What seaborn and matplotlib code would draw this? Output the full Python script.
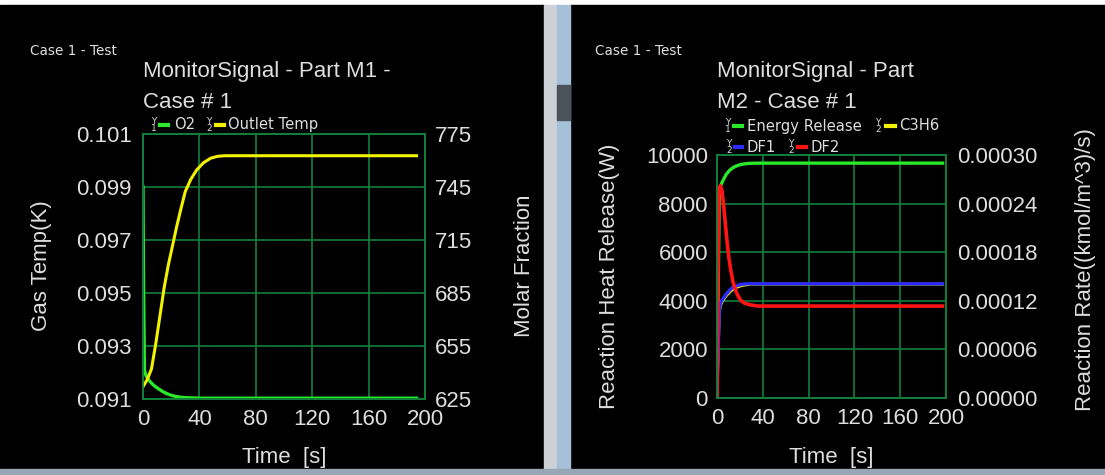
import matplotlib
matplotlib.use("Agg")
import matplotlib.pyplot as plt
import seaborn as sns
from matplotlib.patches import Rectangle
from matplotlib.lines import Line2D

# ---- data ----
# panel M1
t_o2 = [0, 0.3, 1, 2, 4, 6, 8, 10, 12, 14, 17, 20, 23, 26, 30, 35, 40, 60, 100, 150, 194]
o2 = [0.0990, 0.0960, 0.0921, 0.0919, 0.09172, 0.0916, 0.0915, 0.09142, 0.09135, 0.09128,
      0.0912, 0.09114, 0.0911, 0.09107, 0.09105, 0.09104, 0.09103, 0.09103, 0.09103,
      0.09103, 0.09103]
t_temp = [0, 3, 6, 9, 12, 15, 18, 21, 24, 27, 30, 34, 38, 43, 48, 53, 58, 100, 150, 194]
outlet_temp = [632, 636, 642, 656, 672, 688, 701, 712, 723, 733, 742.5, 749.5, 754.6,
               758.8, 761.3, 762.4, 762.7, 762.7, 762.7, 762.7]

# panel M2
t_energy = [0, 2, 3, 5, 8, 11, 14, 17, 20, 24, 28, 32, 40, 100, 150, 197]
energy_release = [0, 8500, 8720, 8930, 9200, 9370, 9480, 9550, 9600, 9635, 9655, 9662,
                  9665, 9665, 9665, 9665]
t_df2 = [0, 1.5, 3, 4.5, 6, 7.5, 9, 10.5, 12, 14, 16, 18, 20.5, 24, 29, 36, 100, 150, 197]
df2 = [0, 0.000258, 0.000262, 0.000255, 0.000235, 0.000212, 0.000190, 0.000172, 0.000158,
       0.000143, 0.000134, 0.000127, 0.000121, 0.000117, 0.000115, 0.0001135, 0.0001135,
       0.0001135, 0.0001135]
t_df1 = [0, 2, 3, 5, 8, 11, 14, 18, 22, 26, 100, 150, 197]
df1 = [0, 0.000110, 0.000117, 0.000122, 0.000128, 0.000133, 0.000137, 0.000139, 0.0001405,
       0.000141, 0.000141, 0.000141, 0.000141]
t_c3h6 = [0, 2, 3, 5, 8, 12, 16, 22, 30, 100, 150, 197]
c3h6 = [0, 0.000105, 0.000114, 0.000120, 0.000126, 0.000132, 0.000136, 0.000139, 0.0001405,
        0.0001405, 0.0001405, 0.0001405]

x_ticks = [0, 40, 80, 120, 160, 200]
m1_left_ticks = [0.091, 0.093, 0.095, 0.097, 0.099, 0.101]
m1_right_ticks = [625, 655, 685, 715, 745, 775]
m2_left_ticks = [0, 2000, 4000, 6000, 8000, 10000]
m2_right_ticks = [0.0, 0.00006, 0.00012, 0.00018, 0.00024, 0.00030]

W, H = 1105, 475
GRID = "#12803a"
TXT = "#dedede"
GREEN, YELLOW, BLUE, RED = "#2be82b", "#f2f200", "#2a2aff", "#ff1414"

plt.rcParams["font.family"] = ["Liberation Sans", "DejaVu Sans"]

fig = plt.figure(figsize=(W / 100, H / 100), dpi=100, facecolor="white")


def fx(px):
    return px / W


def fy(py):
    return 1 - py / H


def box(x0, y0, x1, y1, color):
    fig.patches.append(Rectangle((fx(x0), fy(y1)), fx(x1) - fx(x0), fy(y0) - fy(y1),
                                 transform=fig.transFigure, color=color, zorder=-5))


# window frames
box(0, 5, 544, 469, "black")
box(570, 5, W, 469, "black")
box(544, 5, 557, 469, "#cdd1d5")
box(557, 5, 570, 469, "#a6c0da")
box(557, 85, 570, 120, "#4c5259")
box(0, 469, W, H, "#98a6b6")


def make_axes(x0, y0, x1, y1):
    ax = fig.add_axes([fx(x0), fy(y1), fx(x1) - fx(x0), fy(y0) - fy(y1)])
    ax.set_facecolor("black")
    ax2 = ax.twinx()
    for a in (ax, ax2):
        for s in a.spines.values():
            s.set_color(GRID)
            s.set_linewidth(1.2)
    ax.grid(True, color=GRID, linewidth=1.2)
    ax.set_axisbelow(True)
    ax.set_xlim(0, 200)
    ax.set_xticks(x_ticks)
    ax.tick_params(axis="x", length=0, labelsize=16, colors=TXT, pad=7)
    return ax, ax2


# ---- panel M1 ----
ax1, ax1r = make_axes(143, 134, 425, 399)
sns.lineplot(x=t_o2, y=o2, ax=ax1, color=GREEN, linewidth=2.4, estimator=None)
sns.lineplot(x=t_temp, y=outlet_temp, ax=ax1r, color=YELLOW, linewidth=2.2, estimator=None)
ax1.set_ylim(0.091, 0.101)
ax1.set_yticks(m1_left_ticks, [f"{v:.3f}" for v in m1_left_ticks])
ax1r.set_ylim(625, 775)
ax1r.set_yticks(m1_right_ticks, [str(v) for v in m1_right_ticks])
ax1.tick_params(axis="y", length=0, labelsize=16, colors=TXT, pad=8)
ax1r.tick_params(axis="y", length=0, labelsize=16, colors=TXT, pad=7)

# ---- panel M2 ----
ax2, ax2r = make_axes(717, 155, 946, 398)
sns.lineplot(x=t_energy, y=energy_release, ax=ax2, color=GREEN, linewidth=2.4, estimator=None)
sns.lineplot(x=t_c3h6, y=c3h6, ax=ax2r, color=YELLOW, linewidth=2.0, estimator=None)
sns.lineplot(x=t_df1, y=df1, ax=ax2r, color=BLUE, linewidth=2.4, estimator=None)
sns.lineplot(x=t_df2, y=df2, ax=ax2r, color=RED, linewidth=2.6, estimator=None)
ax2.set_ylim(0, 10000)
ax2.set_yticks(m2_left_ticks, [str(v) for v in m2_left_ticks])
ax2r.set_ylim(0, 0.0003)
ax2r.set_yticks(m2_right_ticks, [f"{v:.5f}" for v in m2_right_ticks])
ax2.tick_params(axis="y", length=0, labelsize=16, colors=TXT, pad=6.5)
ax2r.tick_params(axis="y", length=0, labelsize=16, colors=TXT, pad=8)

for a in (ax1, ax1r, ax2, ax2r):
    a.set_xlabel("")
    a.set_ylabel("")
    a.margins(0)
ax1.set_xlim(0, 200)
ax2.set_xlim(0, 200)

# ---- texts ----
small = dict(color=TXT, family="DejaVu Sans")
fig.text(fx(30), fy(51), "Case 1 - Test", fontsize=9.8, va="center", ha="left", **small)
fig.text(fx(595), fy(51), "Case 1 - Test", fontsize=9.8, va="center", ha="left", **small)

big = dict(color=TXT, fontsize=16, va="center")
fig.text(fx(143), fy(72), "MonitorSignal - Part M1 -", ha="left", **big)
fig.text(fx(143), fy(103), "Case # 1", ha="left", **big)
fig.text(fx(717), fy(72), "MonitorSignal - Part", ha="left", **big)
fig.text(fx(717), fy(103), "M2 - Case # 1", ha="left", **big)

fig.text(fx(42), fy(266), "Gas Temp(K)", rotation=90, ha="center", **big)
fig.text(fx(524), fy(266), "Molar Fraction", rotation=90, ha="center", **big)
fig.text(fx(284), fy(457), "Time  [s]", ha="center", **big)
fig.text(fx(610), fy(276), "Reaction Heat Release(W)", rotation=90, ha="center", **big)
fig.text(fx(1086), fy(270), "Reaction Rate((kmol/m^3)/s)", rotation=90, ha="center", **big)
fig.text(fx(831), fy(457), "Time  [s]", ha="center", **big)

# ---- legends: axis glyph, colour bar, name ----
legend_items = [
    # glyph x, handle x0, handle x1, text x, y, axis no, color, label
    (153.5, 160, 168, 174, 125, "1", GREEN, "O2"),
    (209, 216, 224, 228, 125, "2", YELLOW, "Outlet Temp"),
    (728, 734, 742, 747, 126, "1", GREEN, "Energy Release"),
    (878, 886, 895, 899, 126, "2", YELLOW, "C3H6"),
    (729, 735, 742, 747, 147, "2", BLUE, "DF1"),
    (791, 798, 806, 810, 147, "2", RED, "DF2"),
]
for gx, hx0, hx1, tx, y, axis_no, col, lab in legend_items:
    fig.text(fx(gx), fy(y), "Y\n" + axis_no, fontsize=6.5, linespacing=0.75,
             ha="center", va="center", **small)
    fig.add_artist(Line2D([fx(hx0), fx(hx1)], [fy(y), fy(y)], color=col,
                          linewidth=3, transform=fig.transFigure))
    fig.text(fx(tx), fy(y), lab, fontsize=10.6, ha="left", va="center", **small)

plt.savefig("out.png", dpi=100, facecolor=fig.get_facecolor())
plt.close()
